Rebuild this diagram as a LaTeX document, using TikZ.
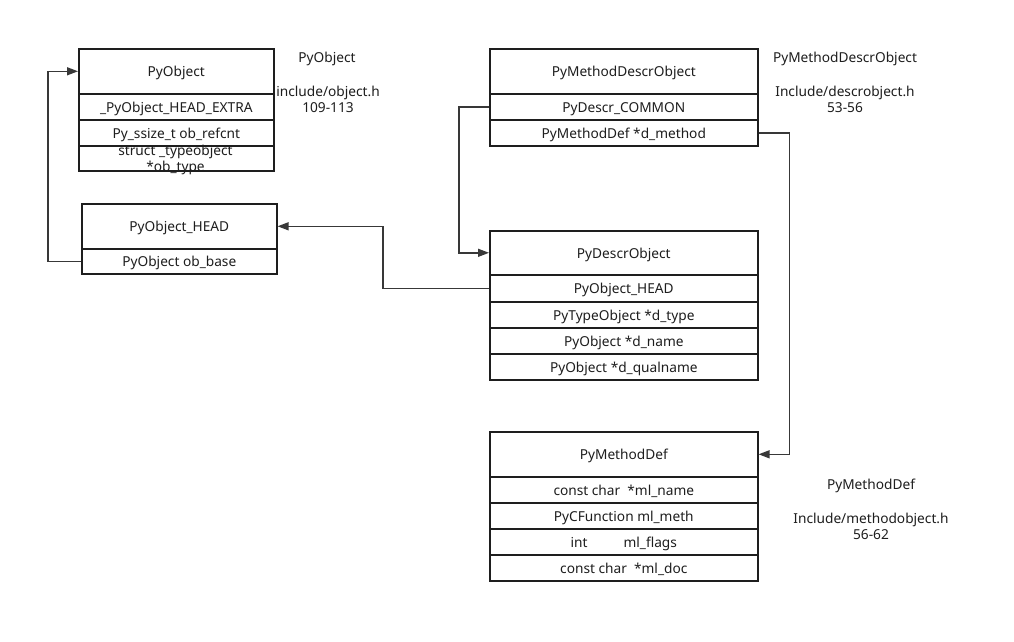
\documentclass[tikz,border=0pt]{standalone}
\usepackage{fontspec}
\setmainfont{Noto Sans}
\usetikzlibrary{arrows.meta}
\definecolor{ink}{HTML}{1E1E1E}
\definecolor{wire}{HTML}{383838}
\tikzset{
  cell/.style={draw=ink, line width=1.6pt, rectangle, inner sep=0pt, anchor=north west,
    font=\fontsize{13.7}{16}\selectfont, text=ink, align=center,
    text height=12.5pt, text depth=2pt},
  head/.style={cell, minimum height=45pt},
  row/.style={cell, minimum height=26pt},
  wide/.style={minimum width=268pt},
  narrow/.style={minimum width=195pt},
  conn/.style={draw=wire, line width=1.4pt, -{Triangle[length=11pt,width=8pt]}},
  note/.style={font=\fontsize{13.7}{16}\selectfont, text=ink, align=center, inner sep=0pt}
}
\begin{document}
\begin{tikzpicture}[x=1pt, y=-1pt]
\useasboundingbox[fill=white] (0,0) rectangle (1014,642);

% PyObject
\node[head, narrow] (pyobj) at (78,48) {PyObject};
\node[row, narrow] (extra) at (78,93) {\_PyObject\_HEAD\_EXTRA};
\node[row, narrow] (refcnt) at (78,119) {Py\_ssize\_t ob\_refcnt};
\node[row, narrow, minimum height=25pt] (obtype) at (78,145) {};
\node[note] (obtypetext) at (175.5,160) {struct \_typeobject\\*ob\_type};

% PyObject_HEAD
\node[head, narrow] (head) at (81,203) {PyObject\_HEAD};
\node[row, minimum width=195pt, minimum height=25pt] (hbase) at (81,248) {PyObject ob\_base};

% PyMethodDescrObject
\node[head, wide] (mdo) at (489,48) {PyMethodDescrObject};
\node[row, wide] (common) at (489,93) {PyDescr\_COMMON};
\node[row, wide] (dmethod) at (489,119) {PyMethodDef *d\_method};

% PyDescrObject
\node[head, minimum width=268pt, minimum height=44pt] (descr) at (489,230) {PyDescrObject};
\node[row, wide, minimum height=27pt] (dhead) at (489,274) {PyObject\_HEAD};
\node[row, wide] (dtype) at (489,301) {PyTypeObject *d\_type};
\node[row, wide] (dname) at (489,327) {PyObject *d\_name};
\node[row, wide] (dqual) at (489,353) {PyObject *d\_qualname};

% PyMethodDef
\node[head, wide] (mdef) at (489,431) {PyMethodDef};
\node[row, wide] (mlname) at (489,476) {const char\ \ *ml\_name};
\node[row, wide] (mlmeth) at (489,502) {PyCFunction ml\_meth};
\node[row, wide] (mlflags) at (489,528) {int\hspace{36pt}ml\_flags};
\node[row, wide] (mldoc) at (489,554) {const char\ \ *ml\_doc};

% source references
\node[note] (n1a) at (327,59) {PyObject};
\node[note] (n1b) at (328,99) {include/object.h\\109-113};
\node[note] (n2a) at (845,59) {PyMethodDescrObject};
\node[note] (n2b) at (845,99) {Include/descrobject.h\\53-56};
\node[note] (n3a) at (871,486) {PyMethodDef};
\node[note] (n3b) at (871,526) {Include/methodobject.h\\56-62};

% connectors
\draw[conn] (hbase.west) -- ++(-33,0) |- (pyobj.west);
\draw[conn] (common.west) -- ++(-30,0) |- (descr.west);
\draw[conn] (dhead.west) -- ++(-106,0) |- (head.east);
\draw[conn] (dmethod.east) -- ++(31,0) |- (mdef.east);
\end{tikzpicture}
\end{document}
